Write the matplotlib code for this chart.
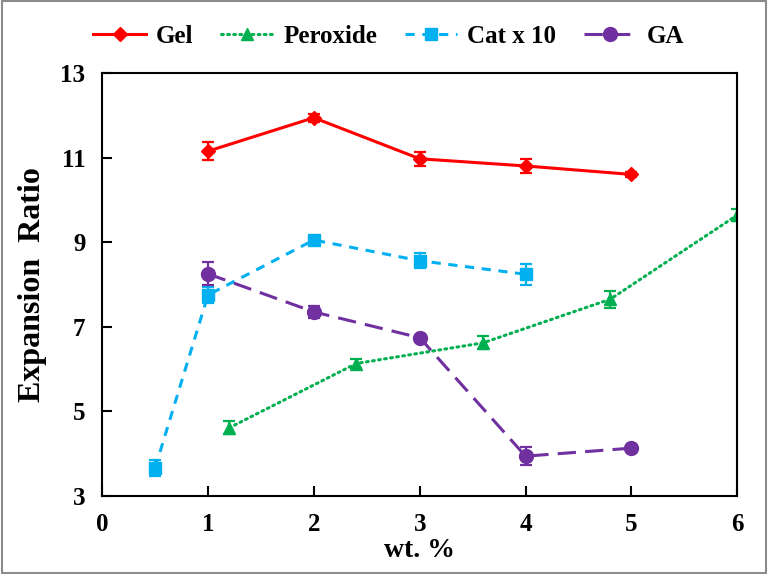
import matplotlib
matplotlib.use("Agg")
import matplotlib.pyplot as plt
from matplotlib.patches import Rectangle

plt.rcParams['font.family'] = ['Liberation Serif', 'DejaVu Serif']
plt.rcParams['font.weight'] = 'bold'

# data
gel_x = [1, 2, 3, 4, 5]
gel_y = [11.15, 11.94, 10.97, 10.80, 10.60]
gel_err = [0.22, 0.10, 0.16, 0.16, 0.05]

per_x = [1.2, 2.4, 3.6, 4.8, 6]
per_y = [4.61, 6.13, 6.62, 7.65, 9.64]
per_err = [0.15, 0.10, 0.15, 0.20, 0.15]

cat_x = [0.5, 1, 2, 3, 4]
cat_y = [3.66, 7.75, 9.05, 8.56, 8.24]
cat_err = [0.20, 0.20, 0.06, 0.18, 0.25]

ga_x = [1, 2, 3, 4, 5]
ga_y = [8.25, 7.35, 6.74, 3.94, 4.13]
ga_err = [0.27, 0.15, 0.04, 0.22, 0.05]

fig = plt.figure(figsize=(7.68, 5.74), dpi=100)
ax = fig.add_axes([0.133, 0.136, 0.827, 0.737])

kw = dict(linewidth=2.2, capsize=4, elinewidth=1.6, capthick=1.6)
ax.errorbar(gel_x, gel_y, yerr=gel_err, color='#FF0000', marker='D',
            markersize=7, linestyle='-', label='Gel', **kw)
ax.errorbar(per_x, per_y, yerr=per_err, color='#00B050', marker='^',
            markersize=9, linestyle=(0, (0.6, 1.4)), dash_capstyle='round',
            label='Peroxide', **kw)
ax.errorbar(cat_x, cat_y, yerr=cat_err, color='#00B0F0', marker='s',
            markersize=8, linestyle=(0, (3, 2.5)), label='Cat x 10', **kw)
ax.errorbar(ga_x, ga_y, yerr=ga_err, color='#7030A0', marker='o',
            markersize=10, linestyle=(0, (6, 3)), label='GA', **kw)

ax.set_xlim(0, 6)
ax.set_ylim(3, 13)
ax.set_xticks(range(0, 7))
ax.set_yticks([3, 5, 7, 9, 11, 13])
ax.tick_params(direction='in', length=7, width=1.5, labelsize=18, pad=12)
for s in ax.spines.values():
    s.set_linewidth(1.5)
ax.set_xlabel('wt. %', fontsize=20, fontweight='bold', labelpad=2)
ax.set_ylabel('Expansion  Ratio', fontsize=23, fontweight='bold', labelpad=10)

handles, labels = ax.get_legend_handles_labels()
handles = [h[0] for h in handles]
fig.legend(handles, labels, loc='center', bbox_to_anchor=(0.506, 0.936), ncol=4,
           frameon=False, prop={'size': 18, 'weight': 'bold'},
           handlelength=2.1, columnspacing=1.1, handletextpad=0.4)

fig.patches.append(Rectangle((0.002, 0.002), 0.996, 0.996, transform=fig.transFigure,
                             fill=False, edgecolor='#8c8c8c', linewidth=1.5))

fig.savefig('out.png', dpi=100)
